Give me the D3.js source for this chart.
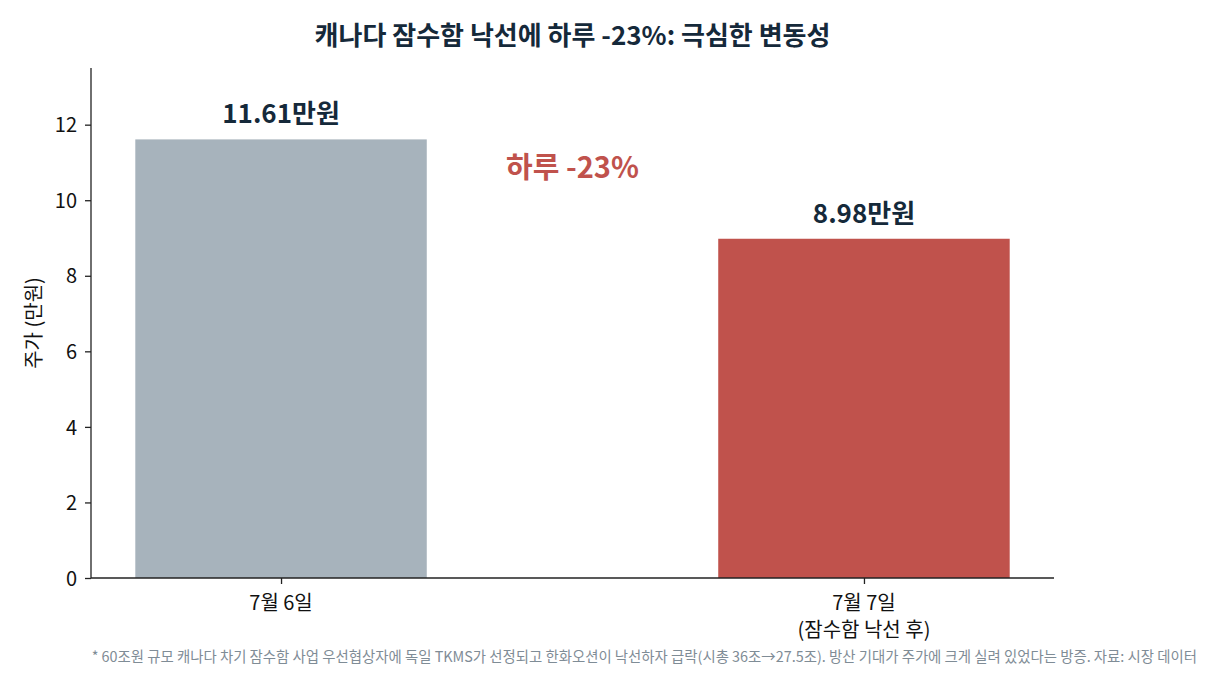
<!DOCTYPE html>
<html>
<head>
<meta charset="utf-8">
<script src="https://cdn.jsdelivr.net/npm/d3@7"></script>
<style>
  body { margin: 0; background: #fff; }
  text { font-family: "Noto Sans CJK KR", "Noto Sans", sans-serif; }
</style>
</head>
<body>
<div id="chart"></div>
<script>
// data
const categories = ["7월 6일", "7월 7일\n(잠수함 낙선 후)"];
const prices = [11.61, 8.98];
const barLabels = ["11.61만원", "8.98만원"];
const barColors = ["#a7b3bc", "#c0524c"];
const yTicks = [0, 2, 4, 6, 8, 10, 12];

const width = 1230, height = 690;
const margin = { top: 68, right: 176, bottom: 112, left: 91 };

const svg = d3.select("#chart")
    .append("svg")
    .attr("width", width)
    .attr("height", height);

const x = d3.scaleLinear()
    .domain([-0.326, 1.326])
    .range([margin.left, width - margin.right]);

const y = d3.scaleLinear()
    .domain([0, 13.5])
    .range([height - margin.bottom, margin.top]);

const barW = x(0.5) - x(0);

// bars
svg.selectAll("rect.bar")
    .data(prices)
    .enter()
    .append("rect")
    .attr("class", "bar")
    .attr("x", (d, i) => x(i) - barW / 2)
    .attr("y", d => y(d))
    .attr("width", barW)
    .attr("height", d => y(0) - y(d))
    .attr("fill", (d, i) => barColors[i]);

// value labels
svg.selectAll("text.val")
    .data(prices)
    .enter()
    .append("text")
    .attr("class", "val")
    .attr("x", (d, i) => x(i))
    .attr("y", d => y(d) - 16)
    .attr("text-anchor", "middle")
    .style("font-size", "26px")
    .style("font-weight", "bold")
    .attr("fill", "#15293a")
    .text((d, i) => barLabels[i]);

// y axis
const yAxis = svg.append("g")
    .attr("transform", `translate(${margin.left},0)`)
    .call(d3.axisLeft(y).tickValues(yTicks).tickSize(6).tickPadding(8));
yAxis.select(".domain").attr("stroke", "#222").attr("stroke-width", 1.3).attr("d", `M0,${y(0)}V${y(13.5)}`);
yAxis.selectAll(".tick line").attr("stroke", "#222").attr("stroke-width", 1.3);
yAxis.selectAll(".tick text").style("font-size", "20px").attr("fill", "#111").attr("dy", "0.36em");

// x axis
const xAxis = svg.append("g")
    .attr("transform", `translate(0,${y(0)})`)
    .call(d3.axisBottom(x).tickValues([0, 1]).tickSize(6).tickFormat(""));
xAxis.select(".domain").attr("stroke", "#222").attr("stroke-width", 1.3).attr("d", `M${x.range()[0]},0H${x.range()[1]}`);
xAxis.selectAll(".tick line").attr("stroke", "#222").attr("stroke-width", 1.3);

categories.forEach((c, i) => {
  const t = svg.append("text")
      .attr("x", x(i))
      .attr("y", y(0) + 32)
      .attr("text-anchor", "middle")
      .style("font-size", "20px")
      .attr("fill", "#111");
  c.split("\n").forEach((line, j) => {
    t.append("tspan").attr("x", x(i)).attr("dy", j === 0 ? 0 : 27).text(line);
  });
});

// y label
svg.append("text")
    .attr("transform", `translate(41,${(y(0) + y(13.5)) / 2}) rotate(-90)`)
    .attr("text-anchor", "middle")
    .style("font-size", "20px")
    .attr("fill", "#111")
    .text("주가 (만원)");

// title
svg.append("text")
    .attr("x", (x.range()[0] + x.range()[1]) / 2)
    .attr("y", 45)
    .attr("text-anchor", "middle")
    .style("font-size", "26px")
    .style("font-weight", "bold")
    .attr("fill", "#15293a")
    .text("캐나다 잠수함 낙선에 하루 -23%: 극심한 변동성");

// annotation
svg.append("text")
    .attr("x", x(0.5))
    .attr("y", 178)
    .attr("text-anchor", "middle")
    .style("font-size", "29px")
    .style("font-weight", "bold")
    .attr("fill", "#c0524c")
    .text("하루 -23%");

// footnote
svg.append("text")
    .attr("x", 1197)
    .attr("y", 662)
    .attr("text-anchor", "end")
    .style("font-size", "14.4px")
    .attr("fill", "#7f8c96")
    .text("* 60조원 규모 캐나다 차기 잠수함 사업 우선협상자에 독일 TKMS가 선정되고 한화오션이 낙선하자 급락(시총 36조→27.5조). 방산 기대가 주가에 크게 실려 있었다는 방증. 자료: 시장 데이터");
</script>
</body>
</html>
